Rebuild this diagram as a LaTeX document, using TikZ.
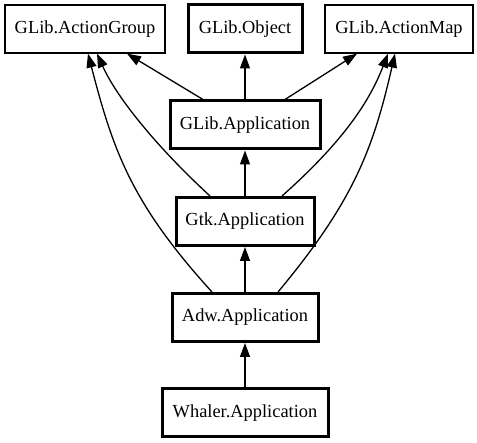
\documentclass[tikz,border=0pt]{standalone}
\usepackage{fontspec}
\setmainfont{Liberation Serif}
\usetikzlibrary{arrows.meta}
\begin{document}
\begin{tikzpicture}[x=1pt,y=-1pt,
  box/.style={draw,line width=1.3pt,minimum height=48pt,inner sep=0pt,font=\fontsize{18.4}{20}\selectfont},
  boldbox/.style={box,line width=3pt},
  edge/.style={line width=1.3pt,-{Triangle[length=14pt,width=10pt]}}]
\useasboundingbox (0,0) rectangle (477,443);
\node[box,minimum width=160pt] (ag) at (85,29) {GLib.ActionGroup};
\node[boldbox,minimum width=114pt] (obj) at (245,29) {GLib.Object};
\node[box,minimum width=148pt] (am) at (399,29) {GLib.ActionMap};
\node[boldbox,minimum width=150pt] (gapp) at (245,125) {GLib.Application};
\node[boldbox,minimum width=138pt] (gtk) at (245,221.5) {Gtk.Application};
\node[boldbox,minimum width=146pt] (adw) at (245,317.5) {Adw.Application};
\node[boldbox,minimum width=166pt] (whaler) at (245,413) {Whaler.Application};
% straight edges
\draw[edge] (gapp) -- (obj);
\draw[edge] (gtk) -- (gapp);
\draw[edge] (adw) -- (gtk);
\draw[edge] (whaler) -- (adw);
\draw[edge] ([xshift=-42pt]gapp.north) -- ([xshift=42pt]ag.south);
\draw[edge] ([xshift=40pt]gapp.north) -- ([xshift=-42pt]am.south);
% curved edges
\draw[edge] ([xshift=-35pt]gtk.north) .. controls (160,150) and (118,100) .. ([xshift=12pt]ag.south);
\draw[edge] ([xshift=-33pt]adw.north) .. controls (131,203) and (113,150) .. ([xshift=3pt]ag.south);
\draw[edge] ([xshift=37pt]gtk.north) .. controls (345,140) and (370,100) .. ([xshift=-11pt]am.south);
\draw[edge] ([xshift=33pt]adw.north) .. controls (353,202) and (373,150) .. ([xshift=-4pt]am.south);
\end{tikzpicture}
\end{document}
